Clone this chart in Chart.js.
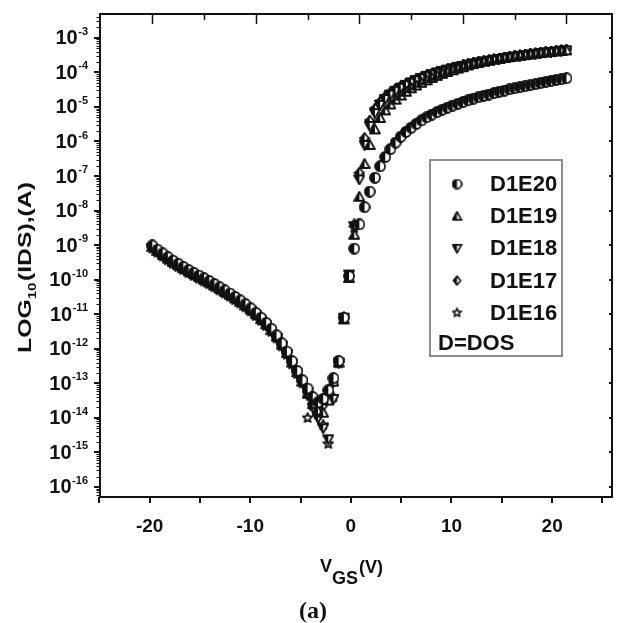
<!DOCTYPE html>
<html>
<head>
<meta charset="utf-8">
<script src="https://cdn.jsdelivr.net/npm/chart.js@4.4.1/dist/chart.umd.min.js"></script>
<style>
  html, body { margin: 0; padding: 0; background: #fff; }
  #wrap { width: 619px; height: 623px; }
</style>
</head>
<body>
<div id="wrap"><canvas id="ivChart" width="619" height="623"></canvas></div>
<script>
// Gate voltage sweep, V
const VGS = [
  -20, -19.5, -19, -18.5, -18, -17.5, -17, -16.5, -16, -15.5,
  -15, -14.5, -14, -13.5, -13, -12.5, -12, -11.5, -11, -10.5,
  -10, -9.5, -9, -8.5, -8, -7.5, -7, -6.5, -6, -5.5,
  -5, -4.5, -4, -3.5, -3, -2.5, -2, -1.5, -1, -0.5,
  0, 0.5, 1, 1.5, 2, 2.5, 3, 3.5, 4, 4.5,
  5, 5.5, 6, 6.5, 7, 7.5, 8, 8.5, 9, 9.5,
  10, 10.5, 11, 11.5, 12, 12.5, 13, 13.5, 14, 14.5,
  15, 15.5, 16, 16.5, 17, 17.5, 18, 18.5, 19, 19.5,
  20
];

// log10(IDS) in A, one array per DOS value
const D1E20 = [
  -9.01, -9.13, -9.24, -9.35, -9.45, -9.54, -9.63, -9.72, -9.80, -9.88,
  -9.96, -10.04, -10.13, -10.22, -10.31, -10.40, -10.50, -10.60, -10.71, -10.83,
  -10.96, -11.10, -11.25, -11.42, -11.61, -11.84, -12.08, -12.36, -12.64, -12.91,
  -13.15, -13.40, -13.55, -13.45, -13.20, -12.85, -12.35, -11.10, -9.90, -9.10,
  -8.40, -7.90, -7.45, -7.05, -6.72, -6.45, -6.22, -6.03, -5.86, -5.72,
  -5.60, -5.49, -5.39, -5.30, -5.22, -5.15, -5.08, -5.02, -4.96, -4.91,
  -4.86, -4.81, -4.76, -4.72, -4.68, -4.64, -4.60, -4.56, -4.53, -4.49,
  -4.46, -4.43, -4.40, -4.37, -4.34, -4.31, -4.28, -4.25, -4.22, -4.20,
  -4.17
];
const D1E19 = [
  -9.05, -9.17, -9.28, -9.39, -9.49, -9.58, -9.67, -9.76, -9.84, -9.92,
  -10.00, -10.08, -10.17, -10.26, -10.35, -10.44, -10.54, -10.64, -10.75, -10.87,
  -11.00, -11.14, -11.29, -11.46, -11.65, -11.88, -12.12, -12.40, -12.68, -12.95,
  -13.30, -13.60, -13.80, -13.85, -13.50, -12.95, -12.40, -11.15, -9.95, -8.70,
  -7.60, -6.65, -6.10, -5.65, -5.32, -5.10, -4.93, -4.79, -4.67, -4.56,
  -4.46, -4.38, -4.30, -4.23, -4.16, -4.10, -4.04, -3.99, -3.94, -3.89,
  -3.85, -3.80, -3.76, -3.73, -3.69, -3.66, -3.63, -3.61, -3.58, -3.56,
  -3.54, -3.52, -3.50, -3.48, -3.46, -3.44, -3.42, -3.41, -3.39, -3.38,
  -3.36
];
const D1E18 = [
  -9.08, -9.20, -9.31, -9.42, -9.52, -9.61, -9.70, -9.79, -9.87, -9.95,
  -10.03, -10.11, -10.20, -10.29, -10.38, -10.47, -10.57, -10.67, -10.78, -10.90,
  -11.03, -11.17, -11.32, -11.49, -11.68, -11.91, -12.15, -12.43, -12.71, -12.98,
  -13.35, -13.70, -14.00, -14.30, -14.62, -13.45, -12.40, -11.10, -9.85, -8.45,
  -7.10, -6.10, -5.55, -5.18, -4.94, -4.77, -4.64, -4.53, -4.44, -4.36,
  -4.29, -4.22, -4.16, -4.10, -4.05, -4.00, -3.96, -3.92, -3.88, -3.84,
  -3.81, -3.77, -3.74, -3.71, -3.68, -3.66, -3.63, -3.61, -3.58, -3.56,
  -3.54, -3.52, -3.50, -3.48, -3.46, -3.44, -3.42, -3.41, -3.39, -3.37,
  -3.36
];
const D1E17 = [
  -9.03, -9.15, -9.26, -9.37, -9.47, -9.56, -9.65, -9.74, -9.82, -9.90,
  -9.98, -10.06, -10.15, -10.24, -10.33, -10.42, -10.52, -10.62, -10.73, -10.85,
  -10.98, -11.12, -11.27, -11.44, -11.63, -11.86, -12.10, -12.38, -12.66, -12.93,
  -13.25, -13.55, -13.70, -13.65, -13.35, -12.95, -12.38, -11.08, -9.88, -8.40,
  -6.90, -5.90, -5.40, -5.05, -4.85, -4.70, -4.58, -4.48, -4.40, -4.33,
  -4.26, -4.20, -4.14, -4.09, -4.04, -3.99, -3.95, -3.91, -3.87, -3.83,
  -3.80, -3.76, -3.73, -3.70, -3.67, -3.65, -3.62, -3.60, -3.57, -3.55,
  -3.53, -3.51, -3.49, -3.47, -3.45, -3.43, -3.41, -3.40, -3.38, -3.36,
  -3.35
];
const D1E16 = [
  -9.10, -9.22, -9.33, -9.44, -9.54, -9.63, -9.72, -9.81, -9.89, -9.97,
  -10.05, -10.13, -10.22, -10.31, -10.40, -10.49, -10.59, -10.69, -10.80, -10.92,
  -11.05, -11.19, -11.34, -11.51, -11.70, -11.93, -12.17, -12.45, -12.73, -13.00,
  -14.00, -13.65, -13.90, -14.20, -14.75, -13.40, -12.42, -11.12, -9.92, -8.50,
  -6.95, -5.95, -5.42, -5.07, -4.86, -4.71, -4.59, -4.49, -4.41, -4.34,
  -4.27, -4.21, -4.15, -4.10, -4.05, -4.00, -3.96, -3.92, -3.88, -3.84,
  -3.81, -3.77, -3.74, -3.71, -3.68, -3.66, -3.63, -3.61, -3.58, -3.56,
  -3.54, -3.52, -3.50, -3.48, -3.46, -3.44, -3.42, -3.41, -3.39, -3.37,
  -3.36
];

const SERIES_NAMES = ['D1E20', 'D1E19', 'D1E18', 'D1E17', 'D1E16'];
const SERIES_VALUES = [D1E20, D1E19, D1E18, D1E17, D1E16];
const MARKER_KINDS = ['circle', 'triUp', 'triDown', 'diamond', 'star'];

// Axis ticks
const Y_DECADES = [-16, -15, -14, -13, -12, -11, -10, -9, -8, -7, -6, -5, -4, -3];
const X_TICK_LABELS = [-20, -10, 0, 10, 20];

const FONT = '"Liberation Sans", Arial, Helvetica, sans-serif';
const SERIF = '"Liberation Serif", "Times New Roman", serif';
const INK = '#111';

// Half-filled marker drawn into a small canvas, used as pointStyle
function makeMarker(kind, size, lw) {
  const c = document.createElement('canvas');
  c.width = size;
  c.height = size;
  const g = c.getContext('2d');
  const m = size / 2;
  const r = size / 2 - 1;
  g.lineWidth = lw;
  g.strokeStyle = INK;
  g.lineJoin = 'round';

  const poly = (pts) => {
    g.beginPath();
    pts.forEach(([px, py], i) => (i ? g.lineTo(px, py) : g.moveTo(px, py)));
    g.closePath();
  };

  let outline, half;
  if (kind === 'circle') {
    outline = () => { g.beginPath(); g.arc(m, m, r, 0, Math.PI * 2); };
    half = () => { g.beginPath(); g.arc(m, m, r, Math.PI / 2, Math.PI * 1.5); g.closePath(); };
  } else if (kind === 'triUp') {
    outline = () => poly([[m, m - r], [m + r, m + r * 0.8], [m - r, m + r * 0.8]]);
    half = () => poly([[m, m - r], [m, m + r * 0.8], [m - r, m + r * 0.8]]);
  } else if (kind === 'triDown') {
    outline = () => poly([[m - r, m - r * 0.8], [m + r, m - r * 0.8], [m, m + r]]);
    half = () => poly([[m - r, m - r * 0.8], [m, m - r * 0.8], [m, m + r]]);
  } else if (kind === 'diamond') {
    outline = () => poly([[m, m - r], [m + r * 0.8, m], [m, m + r], [m - r * 0.8, m]]);
    half = () => poly([[m, m - r], [m, m + r], [m - r * 0.8, m]]);
  } else {
    const pts = [];
    for (let i = 0; i < 10; i++) {
      const rr = i % 2 ? r * 0.45 : r;
      const ang = -Math.PI / 2 + i * Math.PI / 5;
      pts.push([m + rr * Math.cos(ang), m + rr * Math.sin(ang)]);
    }
    outline = () => poly(pts);
    half = null;
  }

  outline();
  g.fillStyle = '#fff';
  g.fill();
  if (half) {
    half();
    g.fillStyle = INK;
    g.fill();
  }
  outline();
  g.stroke();
  return c;
}

const plotMarkers = MARKER_KINDS.map((k) => makeMarker(k, 12, 1.8));
const legendMarkers = MARKER_KINDS.map((k) => makeMarker(k, 11, 1.6));

function seg(ctx, x1, y1, x2, y2) {
  ctx.beginPath();
  ctx.moveTo(x1, y1);
  ctx.lineTo(x2, y2);
  ctx.stroke();
}

// Frame, ticks and tick labels in the style of the original figure
const paperAxes = {
  id: 'paperAxes',
  beforeDatasetsDraw(chart) {
    const { ctx, chartArea: a } = chart;
    const { x, x2, y } = chart.scales;
    ctx.save();
    ctx.strokeStyle = INK;
    ctx.fillStyle = INK;

    // bottom axis: outward ticks every 5 V
    ctx.lineWidth = 2;
    for (let v = -25; v <= 25; v += 5) {
      const px = Math.round(x.getPixelForValue(v));
      if (px < a.left - 1 || px > a.right + 1) continue;
      seg(ctx, px, a.bottom, px, a.bottom + 6);
    }
    // top axis: inward ticks
    ctx.lineWidth = 1.5;
    for (let v = -20; v <= 20; v += 5) {
      const px = Math.round(x2.getPixelForValue(v)) + 0.5;
      seg(ctx, px, a.top, px, a.top + (v % 10 === 0 ? 10 : 6));
    }

    // left axis: decades and log minor ticks, outward
    ctx.lineWidth = 2;
    Y_DECADES.forEach((d) => {
      const py = Math.round(y.getPixelForValue(d));
      seg(ctx, a.left, py, a.left - 6, py);
      // right axis: small inward ticks
      seg(ctx, a.right, py, a.right - 3, py);
    });
    ctx.lineWidth = 1;
    for (let d = -17; d <= -3; d++) {
      for (let k = 2; k <= 9; k++) {
        const v = d + Math.log10(k);
        if (v < y.min || v > y.max) continue;
        const py = Math.round(y.getPixelForValue(v)) + 0.5;
        seg(ctx, a.left, py, a.left - 3.5, py);
      }
    }

    // frame
    ctx.lineWidth = 2;
    ctx.strokeRect(a.left, a.top, a.right - a.left, a.bottom - a.top);

    // y tick labels: 10 with superscript exponent
    ctx.textAlign = 'right';
    ctx.textBaseline = 'middle';
    Y_DECADES.forEach((d) => {
      const py = y.getPixelForValue(d);
      ctx.font = `bold 11px ${FONT}`;
      const sup = String(d);
      const supW = ctx.measureText(sup).width;
      ctx.fillText(sup, 88, py - 6);
      ctx.font = `bold 20px ${FONT}`;
      ctx.fillText('10', 88 - supW - 0.5, py + 1);
    });

    // x tick labels
    ctx.textAlign = 'center';
    ctx.font = `bold 19px ${FONT}`;
    X_TICK_LABELS.forEach((v) => {
      ctx.fillText(String(v), x.getPixelForValue(v), 527);
    });
    ctx.restore();
  },

  afterDraw(chart) {
    const { ctx } = chart;
    ctx.save();
    ctx.fillStyle = INK;
    ctx.textAlign = 'left';
    ctx.textBaseline = 'alphabetic';

    // x title: V_GS(V)
    ctx.font = `bold 18px ${FONT}`;
    let cx = 320;
    ctx.fillText('V', cx, 572);
    cx += ctx.measureText('V').width;
    ctx.fillText('GS', cx, 584);
    cx += ctx.measureText('GS').width + 1;
    ctx.fillText('(V)', cx, 573);

    // y title: LOG_10(IDS),(A), rotated
    ctx.translate(31, 353);
    ctx.rotate(-Math.PI / 2);
    ctx.font = `bold 18px ${FONT}`;
    const wLog = ctx.measureText('LOG').width;
    ctx.font = `bold 11px ${FONT}`;
    const wSub = ctx.measureText('10').width;
    ctx.font = `bold 18px ${FONT}`;
    const rest = '(IDS),(A)';
    const wRest = ctx.measureText(rest).width;
    const stretch = 171 / (wLog + wSub + wRest + 1);
    ctx.scale(stretch, 1);
    ctx.fillText('LOG', 0, 0);
    ctx.font = `bold 11px ${FONT}`;
    ctx.fillText('10', wLog, 5);
    ctx.font = `bold 18px ${FONT}`;
    ctx.fillText(rest, wLog + wSub + 1, 0);
    ctx.restore();

    // caption
    ctx.save();
    ctx.fillStyle = INK;
    ctx.font = `bold 24px ${SERIF}`;
    ctx.textAlign = 'center';
    ctx.textBaseline = 'middle';
    ctx.fillText('(a)', 313, 612);
    ctx.restore();
  },

  afterDatasetsDraw(chart) {
    const { ctx } = chart;
    ctx.save();
    // legend box inside the plot
    ctx.fillStyle = '#fff';
    ctx.fillRect(430, 160, 132, 196);
    ctx.strokeStyle = '#8c8c8c';
    ctx.lineWidth = 2;
    ctx.strokeRect(430, 160, 132, 196);

    ctx.fillStyle = INK;
    ctx.font = `bold 22px ${FONT}`;
    ctx.textAlign = 'left';
    ctx.textBaseline = 'middle';
    SERIES_NAMES.forEach((name, i) => {
      const ly = 184 + i * 32.2;
      const mk = legendMarkers[i];
      ctx.drawImage(mk, 457 - mk.width / 2, ly - mk.height / 2);
      ctx.fillText(name, 490, ly + 1);
    });
    ctx.fillText('D=DOS', 438, 344);
    ctx.restore();
  }
};

const datasets = SERIES_NAMES.map((name, i) => ({
  label: name,
  xAxisID: 'x2',
  yAxisID: 'y',
  data: VGS.map((v, j) => ({ x: v, y: SERIES_VALUES[i][j] })),
  pointStyle: plotMarkers[i],
  pointRadius: 6,
  showLine: false
}));

const hiddenAxis = (extra) => Object.assign({
  type: 'linear',
  ticks: { display: false },
  grid: { display: false },
  border: { display: false }
}, extra);

new Chart(document.getElementById('ivChart'), {
  type: 'scatter',
  data: { datasets },
  options: {
    responsive: false,
    animation: false,
    events: [],
    layout: { padding: { left: 0, right: 1, top: 0, bottom: 0 } },
    plugins: {
      legend: { display: false },
      tooltip: { enabled: false }
    },
    scales: {
      x: hiddenAxis({ position: 'bottom', min: -24.93, max: 25.95, afterFit(s) { s.height = 126; } }),
      x2: hiddenAxis({ position: 'top', min: -25.05, max: 24.4, afterFit(s) { s.height = 14; } }),
      y: hiddenAxis({ position: 'left', min: -16.29, max: -2.31, afterFit(s) { s.width = 100; } })
    }
  },
  plugins: [paperAxes]
});
</script>
</body>
</html>
